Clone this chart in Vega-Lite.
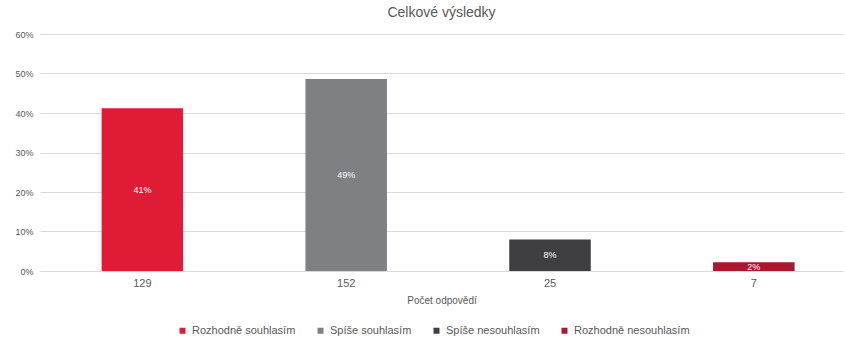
{
  "$schema": "https://vega.github.io/schema/vega-lite/v6.json",
  "autosize": {"type": "none"},
  "width": 803,
  "height": 237,
  "padding": {"left": 40, "top": 34, "right": 2, "bottom": 72},
  "background": "white",
  "config": {
    "view": {"stroke": null},
    "axisY": {"format": ".0%", "values": [0, 0.1, 0.2, 0.3, 0.4, 0.5, 0.6], "labelOverlap": false, "domain": false, "ticks": false, "gridColor": "#d9d9d9", "labelFontSize": 9, "labelColor": "#595959", "labelPadding": 7, "labelFont": "Liberation Sans"}
  },
  "title": {"text": "Celkové výsledky", "fontSize": 14, "fontWeight": "normal", "color": "#595959", "font": "Liberation Sans", "anchor": "middle", "offset": 10},
  "data": {"values": [
    {"pocet": "129", "odpoved": "Rozhodně souhlasím", "podil": 0.412, "label": "41%"},
    {"pocet": "152", "odpoved": "Spíše souhlasím", "podil": 0.486, "label": "49%"},
    {"pocet": "25", "odpoved": "Spíše nesouhlasím", "podil": 0.080, "label": "8%"},
    {"pocet": "7", "odpoved": "Rozhodně nesouhlasím", "podil": 0.022, "label": "2%"}
  ]},
  "encoding": {
    "x": {"field": "pocet", "type": "nominal", "sort": null,
      "scale": {"paddingInner": 0.6, "paddingOuter": 0.27, "align": 0.56},
      "axis": {"title": "Počet odpovědí", "labelAngle": 0, "ticks": false, "domainColor": "#d9d9d9", "labelFontSize": 11, "labelColor": "#595959", "labelPadding": 6, "titleFontSize": 10, "titleFontWeight": "normal", "titleColor": "#595959", "titlePadding": 7, "labelFont": "Liberation Sans", "titleFont": "Liberation Sans"}}
  },
  "layer": [
    {
      "mark": {"type": "bar"},
      "encoding": {
        "y": {"field": "podil", "type": "quantitative", "scale": {"domain": [0, 0.6]}, "axis": {"title": null}},
        "color": {"field": "odpoved", "type": "nominal", "sort": null,
          "scale": {"domain": ["Rozhodně souhlasím", "Spíše souhlasím", "Spíše nesouhlasím", "Rozhodně nesouhlasím"], "range": ["#E01B36", "#7E8084", "#3F3F42", "#A8192F"]},
          "legend": {"title": null, "orient": "none", "direction": "horizontal", "legendX": 137, "legendY": 291, "symbolType": "square", "symbolSize": 36, "labelFontSize": 11, "labelColor": "#595959", "labelFont": "Liberation Sans", "columnPadding": 19, "symbolStrokeWidth": 0, "labelOffset": 4}}
      }
    },
    {
      "transform": [{"calculate": "datum.podil / 2", "as": "stred"}],
      "mark": {"type": "text", "color": "white", "fontSize": 9, "font": "Liberation Sans", "baseline": "middle"},
      "encoding": {
        "y": {"field": "stred", "type": "quantitative", "axis": {"title": null}},
        "text": {"field": "label"}
      }
    }
  ]
}
